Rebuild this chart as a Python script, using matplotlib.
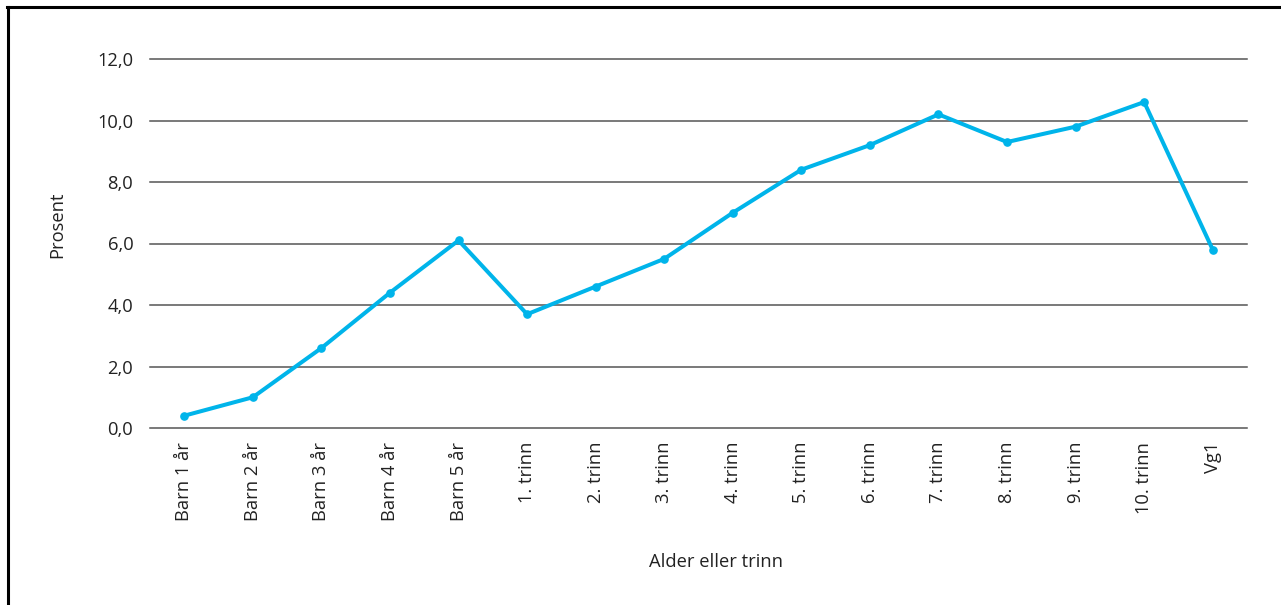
import matplotlib
matplotlib.use("Agg")
import matplotlib.pyplot as plt
from matplotlib.lines import Line2D

categories = ["Barn 1 år", "Barn 2 år", "Barn 3 år", "Barn 4 år", "Barn 5 år",
              "1. trinn", "2. trinn", "3. trinn", "4. trinn", "5. trinn",
              "6. trinn", "7. trinn", "8. trinn", "9. trinn", "10. trinn", "Vg1"]
values = [0.4, 1.0, 2.6, 4.4, 6.1, 3.7, 4.6, 5.5, 7.0, 8.4, 9.2, 10.2, 9.3, 9.8, 10.6, 5.8]
yticks = [0, 2, 4, 6, 8, 10, 12]
ytick_labels = ["0,0", "2,0", "4,0", "6,0", "8,0", "10,0", "12,0"]

plt.rcParams['font.family'] = ['Open Sans', 'DejaVu Sans']
W, H = 1281, 605
FS = 13.2
TC = "#222222"
fig = plt.figure(figsize=(W / 100, H / 100), dpi=100)
ax = fig.add_axes([150 / W, 177 / H, (1247 - 150) / W, (546 - 177) / H])

x = list(range(len(categories)))
ax.plot(x, values, color="#00b4ea", lw=2.9, marker="o", ms=5.2, zorder=3,
        solid_joinstyle="round")

ax.set_xlim(-0.5, len(categories) - 0.5)
ax.set_ylim(0, 12)
ax.set_yticks(yticks)
ax.set_yticklabels(ytick_labels)
ax.set_xticks(x)
ax.set_xticklabels(categories, rotation=90)
for yt in yticks:
    ax.axhline(yt, color="#555555", lw=1.1, zorder=1, clip_on=False)
for s in ax.spines.values():
    s.set_visible(False)
ax.tick_params(axis="both", length=0, labelsize=FS, colors=TC)
ax.tick_params(axis="y", pad=12)
ax.tick_params(axis="x", pad=10)

fig.text(716 / W, 1 - 562 / H, "Alder eller trinn", ha="center", va="center",
         fontsize=FS, color=TC)
fig.text(57 / W, 1 - 225 / H, "Prosent", ha="center", va="center",
         rotation=90, fontsize=FS, color=TC)

# frame lines (left and top)
fig.add_artist(Line2D([8 / W, 8 / W], [0, 1 - 7 / H], transform=fig.transFigure,
                      color="black", lw=2.2))
fig.add_artist(Line2D([7 / W, 1], [1 - 7 / H, 1 - 7 / H], transform=fig.transFigure,
                      color="black", lw=2.2))

fig.savefig("out.png", dpi=100)
